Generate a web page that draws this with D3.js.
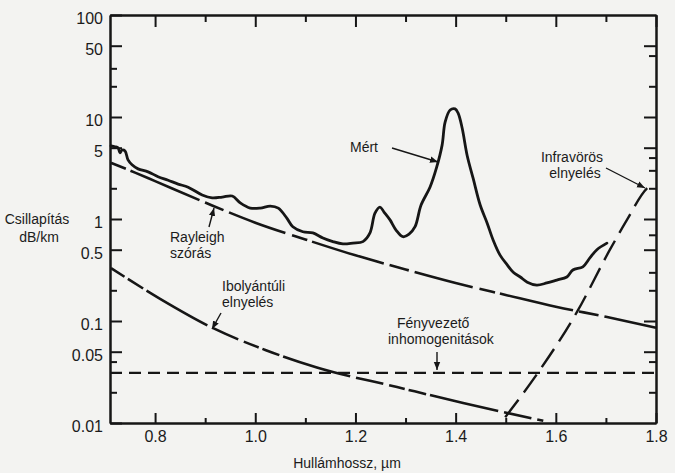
<!DOCTYPE html>
<html><head><meta charset="utf-8">
<script src="https://cdn.jsdelivr.net/npm/d3@7"></script>
<style>
body{margin:0;background:#f3f3f1}
svg{display:block}
text{font-family:"Liberation Sans",Arial,Helvetica,sans-serif;fill:#1b1b1b}
</style>
</head><body>
<svg id="chart" width="675" height="473"></svg>
<script>
// ---- data ----
const measuredX = [0.712,0.720,0.726,0.730,0.734,0.740,0.746,0.754,0.766,0.786,0.806,0.826,0.846,0.866,0.894,0.914,0.934,0.954,0.970,0.990,1.010,1.030,1.046,1.063,1.075,1.095,1.115,1.135,1.155,1.175,1.195,1.215,1.229,1.239,1.249,1.257,1.269,1.281,1.295,1.307,1.319,1.331,1.349,1.362,1.373,1.379,1.389,1.399,1.405,1.413,1.423,1.435,1.449,1.463,1.475,1.489,1.503,1.515,1.529,1.543,1.562,1.582,1.602,1.622,1.634,1.654,1.668,1.682,1.702];
const measuredY = [5.2,5.1,5.0,4.45,4.75,4.65,3.8,3.4,3.1,2.9,2.6,2.4,2.2,2.05,1.72,1.61,1.64,1.68,1.44,1.28,1.28,1.34,1.28,1.02,0.84,0.75,0.73,0.65,0.6,0.57,0.58,0.6,0.73,1.14,1.31,1.17,0.98,0.78,0.67,0.71,0.84,1.37,2.06,3.2,5.3,8.9,11.7,12.0,10.9,7.8,4.2,2.5,1.37,0.91,0.62,0.44,0.355,0.30,0.27,0.24,0.225,0.236,0.252,0.27,0.316,0.34,0.415,0.5,0.58];

const rayleighX = [0.712,0.76,0.8,0.9,1.0,1.1,1.2,1.3,1.4,1.5,1.6,1.7,1.8];
const rayleighY = [3.55,2.85,2.35,1.45,0.92,0.63,0.44,0.32,0.236,0.18,0.138,0.11,0.086];

const uvX = [0.712,0.81,0.916,1.02,1.123,1.283,1.415,1.575];
const uvY = [0.33,0.165,0.085,0.052,0.035,0.0225,0.0157,0.0105];

const irX = [1.499,1.568,1.642,1.708,1.742,1.782,1.79];
const irY = [0.0114,0.033,0.122,0.5,0.98,2.0,2.15];

const inhomX = [0.71,1.8];
const inhomY = [0.031,0.031];

const xMajorTicks = [0.8,1.0,1.2,1.4,1.6,1.8];
const xMinorTicks = [0.9,1.1,1.3,1.5,1.7];
const yLabelTicks = [100,50,10,5,1,0.5,0.1,0.05,0.01];
const yLabelText = ["100","50","10","5","1","0.5","0.1","0.05","0.01"];
const yMinorLeft = [30,20,2,0.2,0.04,0.02];
const yMajorRight = [50,10,5,1,0.5,0.1,0.05];
const yMinorRight = [40,20,4,3,2,0.7,0.3,0.2,0.04,0.02];

const yTitle = ["Csillapítás","dB/km"];
const xTitle = "Hullámhossz, \u00b5m";

// ---- layout ----
const svg = d3.select("#chart");
const L = 110, R = 656, T = 15, B = 423;
const x = d3.scaleLinear().domain([0.71,1.8]).range([L,R]);
const y = d3.scaleLog().domain([0.01,100]).range([B,T]);
const ink = "#161616";

svg.append("rect").attr("width",675).attr("height",473).attr("fill","#f3f3f1");

const defs = svg.append("defs");
defs.append("marker").attr("id","ah").attr("viewBox","0 0 10 10")
  .attr("refX",10).attr("refY",5).attr("markerWidth",8).attr("markerHeight",8)
  .attr("markerUnits","userSpaceOnUse").attr("orient","auto")
  .append("path").attr("d","M0,1 L10,5 L0,9 Z").attr("fill",ink);

function styleAxis(g){
  g.selectAll(".domain").attr("stroke",ink).attr("stroke-width",2);
  g.selectAll(".tick line").attr("stroke",ink).attr("stroke-width",2);
  g.selectAll("text").attr("fill",ink).style("font-size","16px")
    .style("font-family","'Liberation Sans',Arial,sans-serif");
}

// bottom axis
const gB = svg.append("g").attr("transform",`translate(0,${B})`)
  .call(d3.axisBottom(x).tickValues(xMajorTicks).tickSize(-10).tickSizeOuter(0)
    .tickPadding(8).tickFormat(d3.format(".1f")));
styleAxis(gB);
const gB2 = svg.append("g").attr("transform",`translate(0,${B})`)
  .call(d3.axisBottom(x).tickValues(xMinorTicks).tickSize(-5).tickSizeOuter(0).tickFormat(""));
styleAxis(gB2);
// top axis
const gT = svg.append("g").attr("transform",`translate(0,${T})`)
  .call(d3.axisTop(x).tickValues(xMajorTicks).tickSize(-12).tickSizeOuter(0).tickFormat(""));
styleAxis(gT);
const gT2 = svg.append("g").attr("transform",`translate(0,${T})`)
  .call(d3.axisTop(x).tickValues(xMinorTicks).tickSize(-7).tickSizeOuter(0).tickFormat(""));
styleAxis(gT2);
// left axis
const gL = svg.append("g").attr("transform",`translate(${L},0)`)
  .call(d3.axisLeft(y).tickValues(yLabelTicks).tickSize(-12).tickSizeOuter(0)
    .tickPadding(7).tickFormat((d,i)=>yLabelText[yLabelTicks.indexOf(d)]));
styleAxis(gL);
gL.selectAll(".tick text").attr("dy","0.55em");
const gL2 = svg.append("g").attr("transform",`translate(${L},0)`)
  .call(d3.axisLeft(y).tickValues(yMinorLeft).tickSize(-7).tickSizeOuter(0).tickFormat(""));
styleAxis(gL2);
// right axis
const gR = svg.append("g").attr("transform",`translate(${R},0)`)
  .call(d3.axisRight(y).tickValues(yMajorRight).tickSize(-12).tickSizeOuter(0).tickFormat(""));
styleAxis(gR);
const gR2 = svg.append("g").attr("transform",`translate(${R},0)`)
  .call(d3.axisRight(y).tickValues(yMinorRight).tickSize(-7).tickSizeOuter(0).tickFormat(""));
styleAxis(gR2);

// ---- curves ----
const zip = (xs,ys)=>xs.map((v,i)=>[v,ys[i]]);
const lineC = d3.line().x(d=>x(d[0])).y(d=>y(d[1])).curve(d3.curveCatmullRom.alpha(0.5));
const lineM = d3.line().x(d=>x(d[0])).y(d=>y(d[1])).curve(d3.curveMonotoneX);

svg.append("path").datum(zip(inhomX,inhomY)).attr("d",lineM)
  .attr("fill","none").attr("stroke",ink).attr("stroke-width",2.2).attr("stroke-dasharray","12,7");
svg.append("path").datum(zip(rayleighX,rayleighY)).attr("d",lineM)
  .attr("fill","none").attr("stroke",ink).attr("stroke-width",2.6).attr("stroke-dasharray","16,5,75,6,20,6,60,7");
svg.append("path").datum(zip(uvX,uvY)).attr("d",lineM)
  .attr("fill","none").attr("stroke",ink).attr("stroke-width",2.6).attr("stroke-dasharray","16,4,18,4,70,6,28,6");
svg.append("path").datum(zip(irX,irY)).attr("d",lineM)
  .attr("fill","none").attr("stroke",ink).attr("stroke-width",2.4).attr("stroke-dasharray","22,9");
svg.append("path").datum(zip(measuredX,measuredY)).attr("d",lineC)
  .attr("fill","none").attr("stroke",ink).attr("stroke-width",2.8)
  .attr("stroke-linejoin","round").attr("stroke-linecap","round");

// ---- annotations ----
function txt(s,xp,yp,anchor,size){
  return svg.append("text").attr("x",xp).attr("y",yp).attr("text-anchor",anchor||"start")
    .style("font-size",(size||14)+"px").text(s);
}
function arrow(x1,y1,x2,y2){
  svg.append("line").attr("x1",x1).attr("y1",y1).attr("x2",x2).attr("y2",y2)
    .attr("stroke",ink).attr("stroke-width",1.4).attr("marker-end","url(#ah)");
}
txt(yTitle[0],37,224,"middle");
txt(yTitle[1],39,242,"middle");
txt(xTitle,347,468,"middle");

txt("Mért",350,152);
arrow(392,148,438,162);

txt("Infravörös",572,162,"middle");
txt("elnyelés",575,178,"middle");
arrow(606,168,645,188);

txt("Rayleigh",170,242);
txt("szórás",170,258);
arrow(209,227,214,208);

txt("Ibolyántúli",222,291);
txt("elnyelés",222,307);
arrow(221,313,212,329);

txt("Fényvezető",397,328);
txt("inhomogenitások",388,344);
arrow(437,352,437,370);
</script>
</body></html>
